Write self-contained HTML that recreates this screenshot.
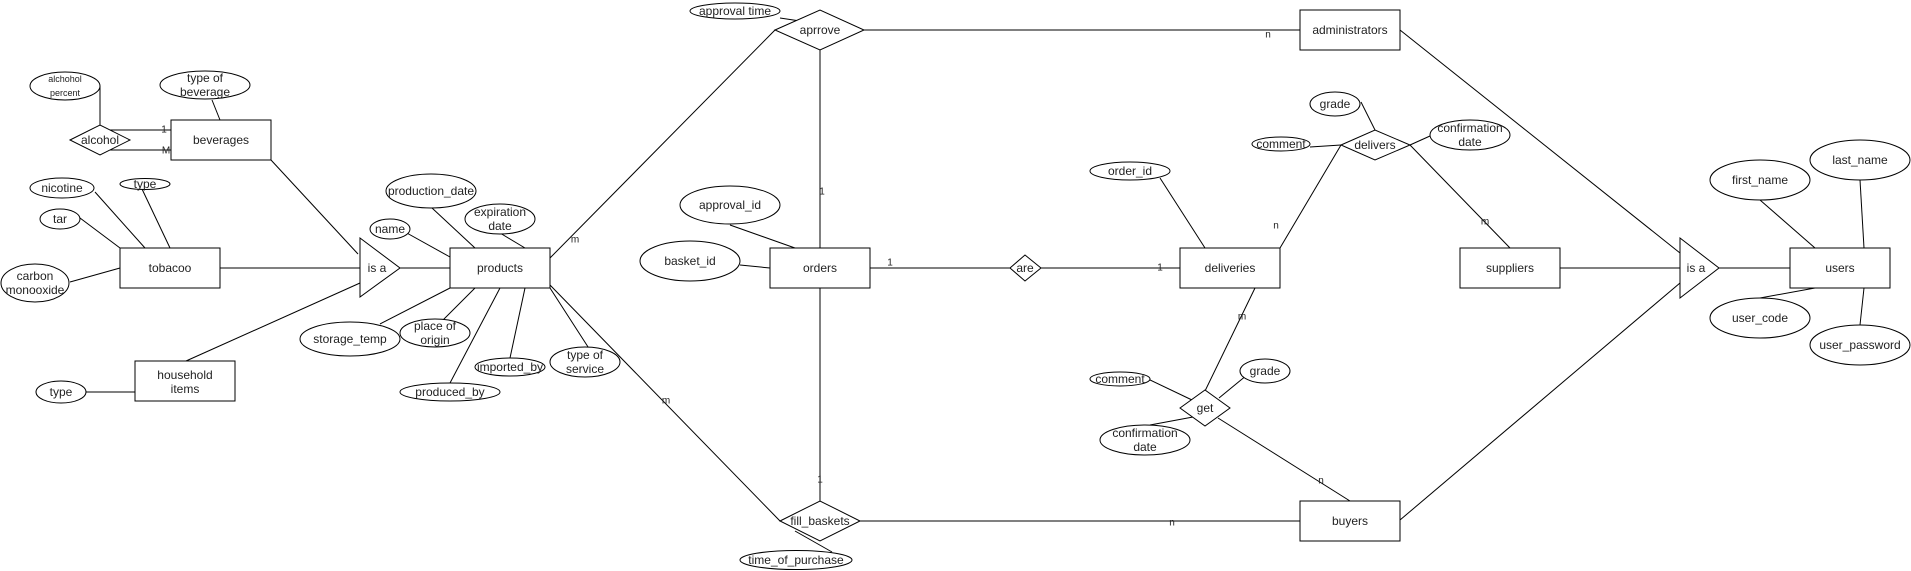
<!DOCTYPE html>
<html><head><meta charset="utf-8"><style>
html,body{margin:0;padding:0;background:#fff;}
svg{display:block;}
text{font-family:"Liberation Sans",Arial,sans-serif;font-size:12px;fill:#222;text-anchor:middle;dominant-baseline:central;}
.s{font-size:10px;}
.xs{font-size:9px;}
</style></head><body>
<svg width="1911" height="571" viewBox="0 0 1911 571" xmlns="http://www.w3.org/2000/svg">
<g stroke="#000" stroke-width="1" fill="none">
<!-- left lines -->
<line x1="100" y1="86" x2="100" y2="125"/>
<line x1="110" y1="130" x2="171" y2="130"/>
<line x1="110" y1="150" x2="171" y2="150"/>
<line x1="212" y1="100" x2="220" y2="120"/>
<line x1="95" y1="192" x2="145" y2="248"/>
<line x1="142" y1="189" x2="170" y2="248"/>
<line x1="80" y1="218" x2="120" y2="248"/>
<line x1="70" y1="282" x2="120" y2="268"/>
<line x1="220" y1="268" x2="360" y2="268"/>
<line x1="271" y1="160" x2="358" y2="254"/>
<line x1="186" y1="361" x2="360" y2="283"/>
<line x1="86" y1="392" x2="135" y2="392"/>
<line x1="400" y1="268" x2="450" y2="268"/>
<line x1="405" y1="232" x2="450" y2="257"/>
<line x1="432" y1="208" x2="475" y2="248"/>
<line x1="500" y1="233" x2="525" y2="248"/>
<line x1="380" y1="324" x2="450" y2="288"/>
<line x1="443" y1="320" x2="475" y2="288"/>
<line x1="450" y1="383" x2="500" y2="288"/>
<line x1="510" y1="358" x2="525" y2="288"/>
<line x1="590" y1="350" x2="550" y2="288"/>
<line x1="550" y1="285" x2="780" y2="521"/>
<line x1="550" y1="258" x2="775" y2="30"/>
<!-- middle -->
<line x1="780" y1="18" x2="800" y2="21"/>
<line x1="864" y1="30" x2="1300" y2="30"/>
<line x1="820" y1="50" x2="820" y2="248"/>
<line x1="730" y1="225" x2="795" y2="248"/>
<line x1="740" y1="265" x2="770" y2="268"/>
<line x1="870" y1="268" x2="1010" y2="268"/>
<line x1="1041" y1="268" x2="1180" y2="268"/>
<line x1="1160" y1="178" x2="1205" y2="248"/>
<line x1="820" y1="288" x2="820" y2="501"/>
<line x1="795" y1="531" x2="832" y2="552"/>
<line x1="860" y1="521" x2="1300" y2="521"/>
<line x1="1255" y1="288" x2="1205" y2="391"/>
<line x1="1148" y1="379" x2="1192" y2="400"/>
<line x1="1150" y1="425" x2="1193" y2="417"/>
<line x1="1247" y1="375" x2="1219" y2="398"/>
<line x1="1218" y1="418" x2="1350" y2="501"/>
<!-- right -->
<line x1="1361" y1="102" x2="1375" y2="130"/>
<line x1="1310" y1="147" x2="1341" y2="145"/>
<line x1="1430" y1="136" x2="1410" y2="145"/>
<line x1="1341" y1="145" x2="1280" y2="248"/>
<line x1="1410" y1="145" x2="1510" y2="248"/>
<line x1="1560" y1="268" x2="1680" y2="268"/>
<line x1="1719" y1="268" x2="1790" y2="268"/>
<line x1="1400" y1="30" x2="1680" y2="253"/>
<line x1="1400" y1="520" x2="1680" y2="283"/>
<line x1="1760" y1="200" x2="1815" y2="248"/>
<line x1="1860" y1="180" x2="1864" y2="248"/>
<line x1="1760" y1="298" x2="1815" y2="288"/>
<line x1="1860" y1="325" x2="1864" y2="288"/>
</g>
<g stroke="#000" stroke-width="1" fill="#fff">
<!-- entities -->
<rect x="171" y="120" width="100" height="40"/>
<rect x="120" y="248" width="100" height="40"/>
<rect x="135" y="361" width="100" height="40"/>
<rect x="450" y="248" width="100" height="40"/>
<rect x="770" y="248" width="100" height="40"/>
<rect x="1180" y="248" width="100" height="40"/>
<rect x="1300" y="10" width="100" height="40"/>
<rect x="1300" y="501" width="100" height="40"/>
<rect x="1460" y="248" width="100" height="40"/>
<rect x="1790" y="248" width="100" height="40"/>
<!-- diamonds -->
<polygon points="70,140 100,125 130,140 100,155"/>
<polygon points="775,30 820,10 864,30 820,50"/>
<polygon points="1010,268 1025,255 1041,268 1025,281"/>
<polygon points="780,521 820,501 860,521 820,541"/>
<polygon points="1180,408 1205,390 1230,408 1205,426"/>
<polygon points="1341,145 1375,130 1410,145 1375,160"/>
<!-- isa triangles -->
<polygon points="360,238 400,268 360,297"/>
<polygon points="1680,238 1719,268 1680,298"/>
<!-- ellipses -->
<ellipse cx="65" cy="86" rx="35" ry="14"/>
<ellipse cx="205" cy="85" rx="45" ry="14"/>
<ellipse cx="62" cy="188" rx="32" ry="10"/>
<ellipse cx="145" cy="184" rx="25" ry="5.5"/>
<ellipse cx="60" cy="219" rx="20" ry="10"/>
<ellipse cx="35" cy="283" rx="34" ry="19"/>
<ellipse cx="61" cy="392" rx="25" ry="11"/>
<ellipse cx="390" cy="229" rx="20" ry="10"/>
<ellipse cx="431" cy="191" rx="45" ry="17"/>
<ellipse cx="500" cy="219" rx="35" ry="15"/>
<ellipse cx="350" cy="339" rx="50" ry="17"/>
<ellipse cx="435" cy="333" rx="35" ry="14"/>
<ellipse cx="450" cy="392" rx="50" ry="9"/>
<ellipse cx="510" cy="367" rx="35" ry="9"/>
<ellipse cx="585" cy="362" rx="35" ry="15"/>
<ellipse cx="735" cy="11" rx="45" ry="8"/>
<ellipse cx="730" cy="205" rx="50" ry="19"/>
<ellipse cx="690" cy="261" rx="50" ry="20"/>
<ellipse cx="1130" cy="171" rx="40" ry="9"/>
<ellipse cx="796" cy="560" rx="56" ry="9.5"/>
<ellipse cx="1120" cy="379" rx="30" ry="7"/>
<ellipse cx="1145" cy="440" rx="45" ry="15"/>
<ellipse cx="1265" cy="371" rx="25" ry="12"/>
<ellipse cx="1335" cy="104" rx="25" ry="12"/>
<ellipse cx="1281" cy="144" rx="29" ry="7"/>
<ellipse cx="1470" cy="135" rx="40" ry="15"/>
<ellipse cx="1760" cy="180" rx="50" ry="20"/>
<ellipse cx="1860" cy="160" rx="50" ry="20"/>
<ellipse cx="1760" cy="318" rx="50" ry="20"/>
<ellipse cx="1860" cy="345" rx="50" ry="20"/>
</g>
<!-- labels -->
<text x="221" y="140">beverages</text>
<text x="170" y="268">tobacoo</text>
<text x="185" y="375">household</text>
<text x="185" y="389">items</text>
<text x="500" y="268">products</text>
<text x="820" y="268">orders</text>
<text x="1230" y="268">deliveries</text>
<text x="1350" y="30">administrators</text>
<text x="1350" y="521">buyers</text>
<text x="1510" y="268">suppliers</text>
<text x="1840" y="268">users</text>
<text x="100" y="140">alcohol</text>
<text x="820" y="30">aprrove</text>
<text x="1025" y="268">are</text>
<text x="820" y="521">fill_baskets</text>
<text x="1205" y="408">get</text>
<text x="1375" y="145">delivers</text>
<text x="377" y="268">is a</text>
<text x="1696" y="268">is a</text>
<text x="65" y="79" class="xs">alchohol</text>
<text x="65" y="93" class="xs">percent</text>
<text x="205" y="78">type of</text>
<text x="205" y="92">beverage</text>
<text x="62" y="188">nicotine</text>
<text x="145" y="184">type</text>
<text x="60" y="219">tar</text>
<text x="35" y="276">carbon</text>
<text x="35" y="290">monooxide</text>
<text x="61" y="392">type</text>
<text x="390" y="229">name</text>
<text x="431" y="191">production_date</text>
<text x="500" y="212">expiration</text>
<text x="500" y="226">date</text>
<text x="350" y="339">storage_temp</text>
<text x="435" y="326">place of</text>
<text x="435" y="340">origin</text>
<text x="450" y="392">produced_by</text>
<text x="510" y="367">imported_by</text>
<text x="585" y="355">type of</text>
<text x="585" y="369">service</text>
<text x="735" y="11">approval time</text>
<text x="730" y="205">approval_id</text>
<text x="690" y="261">basket_id</text>
<text x="1130" y="171">order_id</text>
<text x="796" y="560">time_of_purchase</text>
<text x="1120" y="379">comment</text>
<text x="1145" y="433">confirmation</text>
<text x="1145" y="447">date</text>
<text x="1265" y="371">grade</text>
<text x="1335" y="104">grade</text>
<text x="1281" y="144">comment</text>
<text x="1470" y="128">confirmation</text>
<text x="1470" y="142">date</text>
<text x="1760" y="180">first_name</text>
<text x="1860" y="160">last_name</text>
<text x="1760" y="318">user_code</text>
<text x="1860" y="345">user_password</text>
<!-- cardinalities -->
<g class="s">
<text x="164" y="130" class="s">1</text>
<text x="166" y="151" class="s">M</text>
<text x="575" y="240" class="s">m</text>
<text x="666" y="401" class="s">m</text>
<text x="1268" y="35" class="s">n</text>
<text x="822" y="192" class="s">1</text>
<text x="890" y="263" class="s">1</text>
<text x="1160" y="268" class="s">1</text>
<text x="820" y="480" class="s">1</text>
<text x="1172" y="523" class="s">n</text>
<text x="1242" y="317" class="s">m</text>
<text x="1321" y="481" class="s">n</text>
<text x="1276" y="226" class="s">n</text>
<text x="1485" y="222" class="s">m</text>
</g>
</svg>
</body></html>
